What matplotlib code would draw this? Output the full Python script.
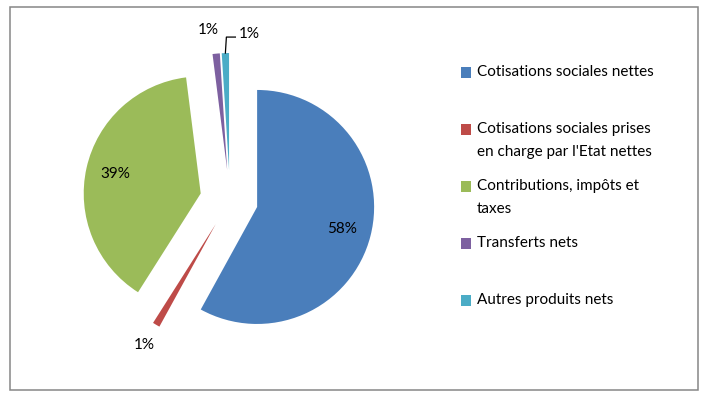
import numpy as np
import matplotlib
matplotlib.use("Agg")
import matplotlib.pyplot as plt
from matplotlib.patches import Rectangle

plt.rcParams["font.family"] = ["Lato", "DejaVu Sans"]

# données
categories = [
    "Cotisations sociales nettes",
    "Cotisations sociales prises\nen charge par l'Etat nettes",
    "Contributions, impôts et\ntaxes",
    "Transferts nets",
    "Autres produits nets",
]
values = [58, 1, 39, 1, 1]
colors = ["#4A7EBB", "#BE4B48", "#9BBB59", "#7D60A0", "#4BACC6"]

W, H = 715, 399
fig = plt.figure(figsize=(W / 100, H / 100), dpi=100)
ax = fig.add_axes([0, 0, 1, 1])

# le camembert, en coordonnées pixels (y vers le haut)
R = 117
center = (230, H - 200)
wedges, _ = ax.pie(values, colors=colors, startangle=90, counterclock=False,
                   radius=R, center=center, explode=[28, 28, 30, 30, 30],
                   wedgeprops=dict(linewidth=0))
ax.set_xlim(0, W)
ax.set_ylim(0, H)
ax.set_aspect("equal")
ax.axis("off")

fs = 11
label_dist = [0.75, 1.2, 0.75, 1.2, None]
for i, (w, v) in enumerate(zip(wedges, values)):
    th = np.deg2rad((w.theta1 + w.theta2) / 2)
    cx, cy = w.center
    ux, uy = np.cos(th), np.sin(th)
    txt = f"{v}%"
    if label_dist[i] is not None:
        d = label_dist[i] * w.r
        x, y = cx + d * ux, cy + d * uy
        if i == 3:
            x -= 6
        ax.text(x, y, txt, ha="center", va="center", fontsize=fs)
    else:
        # étiquette déplacée avec ligne de rappel
        tx, ty = cx + w.r * ux, cy + w.r * uy
        ex, ey = tx + 1, ty + 16
        fx = ex + 9
        ax.plot([tx, ex, fx], [ty, ey, ey], color="black", lw=0.9)
        ax.text(fx + 3, ey - 4, txt, ha="left", va="bottom", fontsize=fs)

# légende
for i, (lab, c) in enumerate(zip(categories, colors)):
    yc = 72 + i * 57
    ax.add_patch(Rectangle((461, H - yc - 5.5), 10, 11, color=c, lw=0))
    ax.text(477, H - yc + 7, lab, ha="left", va="top", fontsize=fs,
            linespacing=1.8)

# cadre
ax.add_patch(Rectangle((10, H - 390), 688, 383, fill=False,
                       edgecolor="#868686", lw=1.1))

plt.savefig("out.png", dpi=100)
